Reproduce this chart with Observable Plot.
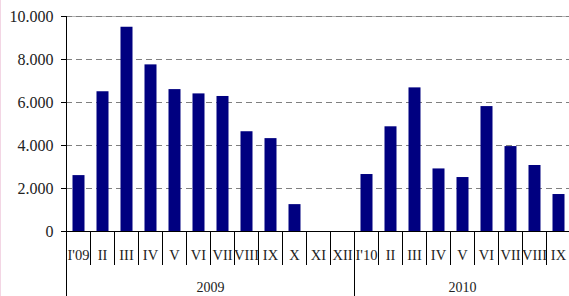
<!DOCTYPE html>
<html><head><meta charset="utf-8">
<script src="https://cdn.jsdelivr.net/npm/d3@7"></script>
<script src="https://cdn.jsdelivr.net/npm/@observablehq/plot@0.6"></script>
<style>
body{margin:0;background:#fff;}
#chart{position:relative;width:569px;height:296px;overflow:hidden;}
#chart svg, #chart svg text{font-family:"Liberation Serif","Times New Roman",Times,serif !important;}
#edge{position:absolute;left:0;top:0;width:1px;height:296px;background:#f3d6e4;}
</style></head><body><div id="chart"><div id="edge"></div></div>
<script>
const months = ["I'09","II","III","IV","V","VI","VII","VIII","IX","X","XI","XII","I'10","II","III","IV","V","VI","VII","VIII","IX"];
const values = [2600,6500,9500,7750,6600,6400,6280,4640,4320,1250,0,0,2650,4870,6680,2910,2510,5810,3950,3070,1720];
const years = ["2009","2010"];
const yearStart = [0,12];
const yearEnd = [12,21];
const yTicks = [0,2000,4000,6000,8000,10000];

const data = months.map((m,i)=>({label:m, value:values[i], i}));
const fmt = d3.formatLocale({thousands:".",decimal:",",grouping:[3],currency:["",""]}).format(",");

const chart = Plot.plot({
  width:569, height:296, marginTop:16, marginBottom:65, marginLeft:66, marginRight:-1,
  style:{fontFamily:"'Liberation Serif', 'Times New Roman', serif", fontSize:"15px", color:"#000", background:"transparent"},
  x:{domain:[0,21], axis:null},
  y:{domain:[0,10000], axis:null, label:null},
  marks:[
    Plot.ruleY([10000], {stroke:"#b4b4b4"}),
    Plot.ruleY(yTicks.filter(d=>d>0), {stroke:"#808080", strokeDasharray:"6,4"}),
    Plot.rectY(data, {x1:"i", x2:d=>d.i+1, y:"value", fill:"#000080", insetLeft:6.5, insetRight:5.5}),
    Plot.axisY(yTicks, {tickSize:5, tickPadding:8, tickFormat:fmt, fontSize:16, stroke:"#000", fill:"#222", label:null}),
    Plot.ruleY([0], {stroke:"#000"}),
    Plot.ruleX(d3.range(1,21).filter(i=>i!==12), {insetTop:215, insetBottom:-34, stroke:"#000"}),
    Plot.ruleX([yearStart[0]], {insetBottom:-65, stroke:"#000"}),
    Plot.ruleX(yearStart.slice(1), {insetTop:215, insetBottom:-65, stroke:"#000"}),
    Plot.text(data, {x:d=>d.i+0.5, y:0, text:"label", dy:24, fontSize:14.5, fill:"#222"}),
    Plot.text(years, {x:(d,i)=>(yearStart[i]+yearEnd[i])/2, y:0, text:d=>d, dy:56, fontSize:14, fill:"#222"})
  ]
});
document.getElementById("chart").appendChild(chart);
</script></body></html>
